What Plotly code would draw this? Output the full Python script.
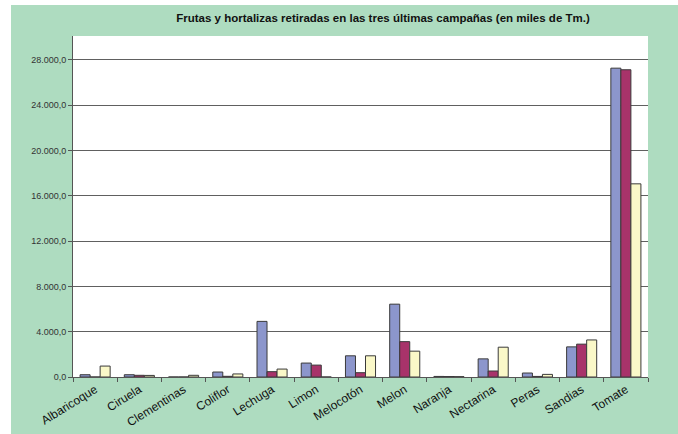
import plotly.graph_objects as go

categories = ["Albaricoque", "Ciruela", "Clementinas", "Coliflor", "Lechuga", "Limon",
              "Melocotón", "Melon", "Naranja", "Nectarina", "Peras", "Sandias", "Tomate"]
campaign_1 = [200, 200, 0, 440, 4910, 1230, 1870, 6430, 50, 1600, 350, 2660, 27260]
campaign_2 = [0, 150, 0, 60, 470, 1050, 380, 3120, 40, 530, 50, 2900, 27120]
campaign_3 = [965, 140, 150, 270, 700, 0, 1870, 2280, 30, 2630, 230, 3270, 17050]
series_names = ["Campaña 1", "Campaña 2", "Campaña 3"]
colors = ["#8C96CC", "#A8336A", "#FAF8C8"]

W, H = 678, 434
L, R, T, B = 73, 30, 36, 57
pw, ph = W - L - R, H - T - B

fig = go.Figure()
for name, vals, c in zip(series_names, [campaign_1, campaign_2, campaign_3], colors):
    fig.add_trace(go.Bar(x=categories, y=vals, name=name, marker_color=c,
                         marker_line_color="#3a3a3a", marker_line_width=1))

# white strips at the left and top edges (chart area starts at x=11, y=5)
fig.add_shape(type="rect", xref="paper", yref="paper", layer="below",
              x0=-L / pw, x1=(11 - L) / pw, y0=-B / ph, y1=(H - B) / ph,
              fillcolor="white", line_width=0)
fig.add_shape(type="rect", xref="paper", yref="paper", layer="below",
              x0=-L / pw, x1=(W - L) / pw, y0=(H - B - 5) / ph, y1=(H - B) / ph,
              fillcolor="white", line_width=0)

fig.update_layout(
    width=W, height=H,
    margin=dict(l=L, r=R, t=T, b=B, autoexpand=False),
    paper_bgcolor="#AEDCC0", plot_bgcolor="white",
    showlegend=False,
    barmode="group", bargap=0.32, bargroupgap=0,
    separators=",.",
    title=dict(text="<b>Frutas y hortalizas retiradas en las tres últimas campañas (en miles de Tm.)</b>",
               x=383 / W, xanchor="center", y=1 - 18 / H, yanchor="middle",
               font=dict(family="Liberation Sans, Arial", size=11.5, color="#111")),
    font=dict(family="Liberation Sans, Arial"),
    xaxis=dict(showline=True, linecolor="#555", linewidth=1, ticks="outside", ticklen=4,
               tickcolor="#555", tickson="boundaries", tickangle=-32, automargin=False,
               tickfont=dict(size=12, color="#111")),
    yaxis=dict(range=[0, 30100], tickvals=[0, 4000, 8000, 12000, 16000, 20000, 24000, 28000],
               tickformat=",.1f", showline=True, linecolor="#555", linewidth=1,
               ticks="outside", ticklen=4, tickcolor="#555", automargin=False,
               showgrid=True, gridcolor="#606060", gridwidth=1, zeroline=False,
               tickfont=dict(size=9, color="#333")),
)
fig.write_html("out.html", config={"displayModeBar": False},
               post_script="document.body.style.margin='0px';")
